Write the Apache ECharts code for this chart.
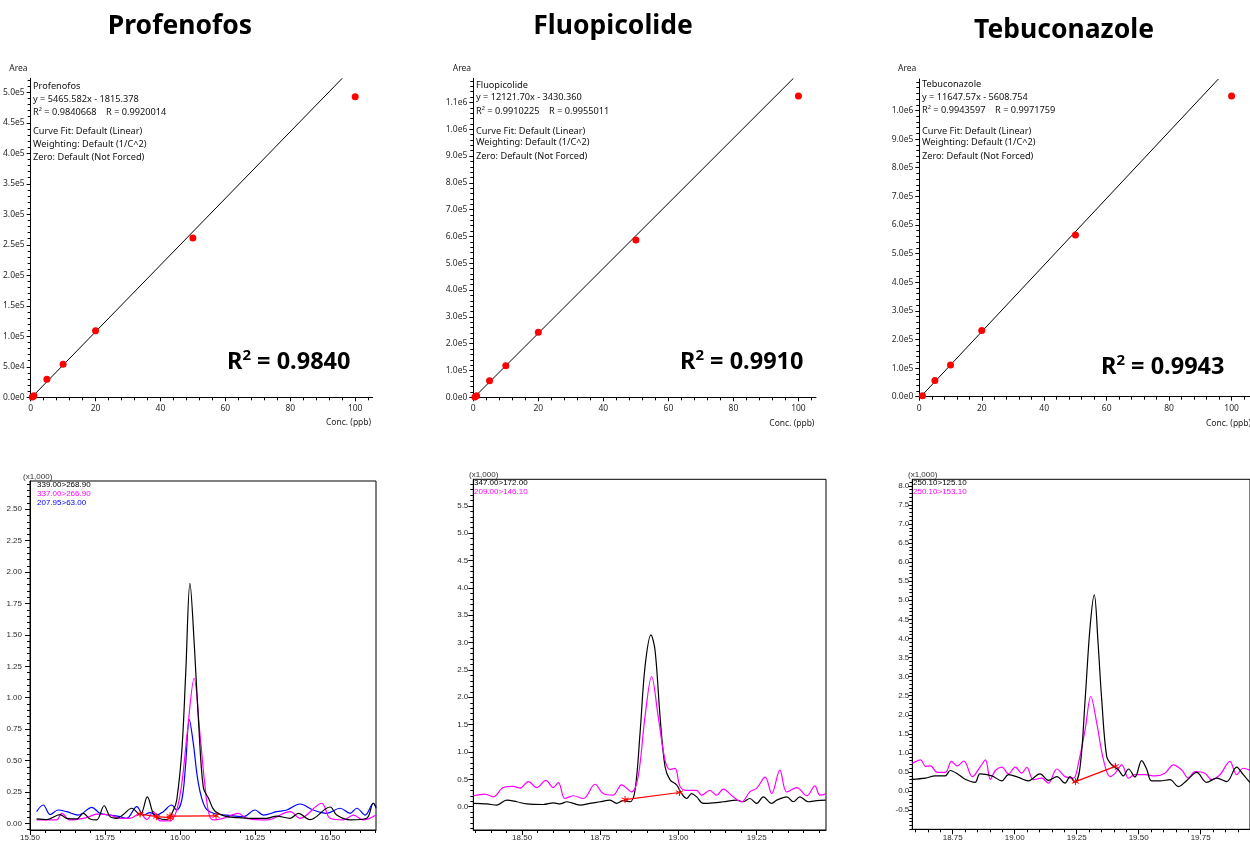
<!DOCTYPE html>
<html><head><meta charset="utf-8">
<script src="https://cdn.jsdelivr.net/npm/echarts@6/dist/echarts.min.js"></script>
<style>html,body{margin:0;padding:0;background:#fff}#c{width:1250px;height:843px}</style>
</head><body><div id="c"></div>
<script>
// ---------- Calibration data ----------
const titles = ['Profenofos', 'Fluopicolide', 'Tebuconazole'];
const profConc = [0.5, 1, 5, 10, 20, 50, 100];
const profArea = [500, 2500, 29500, 54000, 109000, 261000, 492800];
const fluoConc = [0.5, 1, 5, 10, 20, 50, 100];
const fluoArea = [1500, 6000, 62000, 118000, 243000, 587000, 1124000];
const tebuConc = [1, 5, 10, 20, 50, 100];
const tebuArea = [3500, 57000, 111000, 231000, 565000, 1051000];
// regression line end points
const profFit = [[0.33, 0], [96.0, 522900]];
const fluoFit = [[0.28, 0], [98.46, 1190000]];
const tebuFit = [[0.48, 0], [95.78, 1110000]];
const profInfo = ['Profenofos', 'y = 5465.582x - 1815.378', 'R² = 0.9840668    R = 0.9920014', 'Curve Fit: Default (Linear)', 'Weighting: Default (1/C^2)', 'Zero: Default (Not Forced)'];
const fluoInfo = ['Fluopicolide', 'y = 12121.70x - 3430.360', 'R² = 0.9910225    R = 0.9955011', 'Curve Fit: Default (Linear)', 'Weighting: Default (1/C^2)', 'Zero: Default (Not Forced)'];
const tebuInfo = ['Tebuconazole', 'y = 11647.57x - 5608.754', 'R² = 0.9943597    R = 0.9971759', 'Curve Fit: Default (Linear)', 'Weighting: Default (1/C^2)', 'Zero: Default (Not Forced)'];
const r2Big = ['0.9840', '0.9910', '0.9943'];

// calibration ticks
const calXTicks = [0, 20, 40, 60, 80, 100];
const profYTicks = [0, 50000, 100000, 150000, 200000, 250000, 300000, 350000, 400000, 450000, 500000];
const fluoYTicks = [0, 100000, 200000, 300000, 400000, 500000, 600000, 700000, 800000, 900000, 1000000, 1100000];
const tebuYTicks = [0, 100000, 200000, 300000, 400000, 500000, 600000, 700000, 800000, 900000, 1000000];

// ---------- Chromatogram data [time (min), intensity (x1,000)] ----------
const profLegend = ['339.00>268.90', '337.00>266.90', '207.95>63.00'];
const profBlack = [[15.522,0.035],[15.556,0.03],[15.60,0.07],[15.622,0.04],[15.656,0.035],[15.678,0.08],[15.70,0.035],[15.722,0.027],[15.747,0.14],[15.767,0.053],[15.789,0.04],[15.811,0.07],[15.839,0.12],[15.867,0.066],[15.891,0.21],[15.911,0.075],[15.928,0.04],[15.956,0.03],[15.978,0.106],[15.989,0.186],[16.006,0.58],[16.019,1.2],[16.033,1.91],[16.048,1.4],[16.063,0.75],[16.078,0.28],[16.095,0.2],[16.115,0.1],[16.156,0.053],[16.178,0.048],[16.233,0.04],[16.289,0.04],[16.322,0.058],[16.367,0.04],[16.394,0.08],[16.433,0.03],[16.50,0.13],[16.522,0.066],[16.567,0.027],[16.622,0.04],[16.644,0.16],[16.653,0.13]];
const profMagenta = [[15.522,0.027],[15.589,0.027],[15.606,0.08],[15.633,0.027],[15.689,0.045],[15.722,0.074],[15.767,0.066],[15.80,0.04],[15.833,0.04],[15.867,0.08],[15.889,0.03],[15.911,0.093],[15.933,0.02],[15.967,0.02],[15.989,0.106],[16.006,0.32],[16.024,0.72],[16.047,1.155],[16.066,0.72],[16.083,0.3],[16.096,0.08],[16.111,0.027],[16.144,0.04],[16.194,0.08],[16.222,0.04],[16.289,0.027],[16.367,0.093],[16.40,0.04],[16.472,0.16],[16.50,0.04],[16.544,0.027],[16.578,0.066],[16.611,0.027],[16.653,0.066]];
const profBlue = [[15.522,0.093],[15.544,0.146],[15.567,0.07],[15.594,0.106],[15.622,0.093],[15.661,0.066],[15.706,0.127],[15.733,0.08],[15.767,0.066],[15.80,0.053],[15.822,0.04],[15.856,0.133],[15.878,0.066],[15.90,0.085],[15.922,0.066],[15.944,0.093],[15.972,0.146],[15.989,0.106],[16.006,0.186],[16.018,0.45],[16.031,0.825],[16.044,0.64],[16.061,0.32],[16.083,0.13],[16.111,0.08],[16.156,0.066],[16.211,0.053],[16.25,0.106],[16.278,0.066],[16.322,0.093],[16.356,0.106],[16.40,0.154],[16.444,0.106],[16.489,0.08],[16.533,0.12],[16.567,0.08],[16.589,0.12],[16.617,0.066],[16.644,0.16],[16.653,0.12]];
const profBase1 = [[15.867,0.074],[15.922,0.053],[15.967,0.045]];
const profBase2 = [[15.967,0.058],[16.12,0.06]];

const fluoLegend = ['347.00>172.00', '209.00>146.10'];
const fluoBlack = [[18.344,0.06],[18.387,0.05],[18.419,0.03],[18.451,0.12],[18.483,0.09],[18.515,0.05],[18.568,0.04],[18.60,0.07],[18.621,0.05],[18.643,0.09],[18.685,0.03],[18.717,0.06],[18.749,0.09],[18.781,0.12],[18.802,0.06],[18.823,0.11],[18.845,0.09],[18.861,0.30],[18.877,1.34],[18.893,2.56],[18.912,3.14],[18.925,2.86],[18.941,1.65],[18.957,0.73],[18.973,0.49],[18.994,0.40],[19.01,0.24],[19.026,0.15],[19.042,0.24],[19.058,0.18],[19.079,0.06],[19.111,0.07],[19.143,0.09],[19.186,0.12],[19.207,0.09],[19.228,0.15],[19.25,0.06],[19.271,0.18],[19.298,0.06],[19.314,0.12],[19.346,0.18],[19.367,0.09],[19.388,0.18],[19.415,0.09],[19.442,0.11],[19.471,0.12]];
const fluoMagenta = [[18.344,0.20],[18.381,0.23],[18.408,0.18],[18.44,0.35],[18.472,0.37],[18.494,0.34],[18.52,0.46],[18.547,0.35],[18.576,0.48],[18.60,0.35],[18.616,0.44],[18.637,0.15],[18.664,0.20],[18.696,0.15],[18.733,0.41],[18.759,0.24],[18.791,0.21],[18.818,0.40],[18.85,0.27],[18.871,0.55],[18.893,1.65],[18.914,2.38],[18.935,1.65],[18.957,0.85],[18.973,0.68],[18.989,0.70],[19.005,0.37],[19.026,0.30],[19.058,0.30],[19.074,0.21],[19.10,0.30],[19.122,0.21],[19.143,0.32],[19.175,0.18],[19.202,0.09],[19.228,0.27],[19.25,0.34],[19.277,0.54],[19.298,0.24],[19.324,0.67],[19.346,0.27],[19.378,0.35],[19.41,0.20],[19.436,0.38],[19.452,0.21],[19.471,0.23]];
const fluoBase = [[18.829,0.13],[19.003,0.26]];

const tebuLegend = ['250.10>125.10', '250.10>153.10'];
const tebuBlack = [[18.587,0.31],[18.64,0.34],[18.68,0.40],[18.72,0.40],[18.74,0.54],[18.774,0.43],[18.80,0.31],[18.84,0.23],[18.86,0.45],[18.908,0.40],[18.948,0.27],[18.975,0.43],[19.015,0.36],[19.055,0.27],[19.102,0.45],[19.136,0.28],[19.17,0.38],[19.203,0.21],[19.223,0.38],[19.243,0.23],[19.264,0.65],[19.284,2.39],[19.304,4.3],[19.321,5.14],[19.336,3.9],[19.351,2.39],[19.371,0.91],[19.391,0.69],[19.418,0.56],[19.438,0.40],[19.459,0.58],[19.485,0.37],[19.512,0.80],[19.532,0.58],[19.552,0.27],[19.586,0.27],[19.626,0.30],[19.66,0.12],[19.694,0.28],[19.734,0.49],[19.774,0.23],[19.815,0.34],[19.855,0.25],[19.895,0.63],[19.922,0.43],[19.949,0.22]];
const tebuMagenta = [[18.587,0.73],[18.621,0.82],[18.64,0.65],[18.66,0.66],[18.688,0.49],[18.72,0.49],[18.745,0.78],[18.768,0.66],[18.795,0.79],[18.829,0.38],[18.862,0.65],[18.882,0.82],[18.902,0.31],[18.922,0.54],[18.948,0.63],[18.975,0.45],[19.002,0.63],[19.028,0.47],[19.049,0.62],[19.075,0.30],[19.109,0.34],[19.136,0.21],[19.17,0.58],[19.203,0.38],[19.237,0.34],[19.257,0.73],[19.284,1.61],[19.307,2.48],[19.331,1.78],[19.358,0.82],[19.385,0.38],[19.405,0.47],[19.432,0.69],[19.459,0.34],[19.485,0.43],[19.526,0.43],[19.566,0.40],[19.606,0.47],[19.64,0.69],[19.673,0.56],[19.70,0.34],[19.727,0.51],[19.767,0.47],[19.794,0.30],[19.828,0.43],[19.868,0.78],[19.895,0.43],[19.922,0.60],[19.949,0.55]];
const tebuBase = [[19.245,0.25],[19.406,0.65]];

const profXTicks = [15.5, 15.75, 16.0, 16.25, 16.5];
const profChYTicks = [0, 0.25, 0.5, 0.75, 1.0, 1.25, 1.5, 1.75, 2.0, 2.25, 2.5];
const fluoXTicks = [18.5, 18.75, 19.0, 19.25];
const fluoChYTicks = [0, 0.5, 1.0, 1.5, 2.0, 2.5, 3.0, 3.5, 4.0, 4.5, 5.0, 5.5];
const tebuXTicks = [18.75, 19.0, 19.25, 19.5, 19.75];
const tebuChYTicks = [-0.5, 0, 0.5, 1.0, 1.5, 2.0, 2.5, 3.0, 3.5, 4.0, 4.5, 5.0, 5.5, 6.0, 6.5, 7.0, 7.5, 8.0];

// ---------- helpers ----------
function steps(a, b, s) { const out = []; const n = Math.round((b - a) / s); for (let i = 0; i <= n; i++) out.push(Math.round((a + i * s) * 1e6) / 1e6); return out; }

const grids = [
  { left: 30, top: 78.3, width: 342.7, height: 319 },
  { left: 473.3, top: 78.3, width: 342.7, height: 319 },
  { left: 919.3, top: 79, width: 330.7, height: 317.7 },
  { left: 30, top: 481, width: 346, height: 349, show: true, borderColor: '#000', borderWidth: 1 },
  { left: 473.3, top: 479.3, width: 352.7, height: 350.7, show: true, borderColor: '#000', borderWidth: 1 },
  { left: 912.3, top: 479.3, width: 337.7, height: 350, show: true, borderColor: '#000', borderWidth: 1 }
];

const xAxes = [], yAxes = [];
function addAxes(list, pos, gi, min, max, majors, minors, fmt, font, margin, majLen) {
  const base = { type: 'value', gridIndex: gi, min: min, max: max, position: pos, splitLine: { show: false } };
  list.push(Object.assign({}, base, {
    axisLine: { show: true, onZero: false, lineStyle: { color: '#000', width: 1 } },
    axisTick: { show: true, customValues: majors, length: majLen, lineStyle: { color: '#000', width: 1 } },
    axisLabel: { show: true, customValues: majors, formatter: fmt, color: '#2a2a2a', fontFamily: font.family, fontSize: font.size, margin: margin },
    minorTick: { show: false }
  }));
  list.push(Object.assign({}, base, {
    axisLine: { show: false, onZero: false },
    axisTick: { show: true, customValues: minors, length: 3, lineStyle: { color: '#000', width: 1 } },
    axisLabel: { show: false },
    minorTick: { show: false }
  }));
}
const calFont = { family: 'Noto Sans', size: 8.5 };
const chFont = { family: 'Liberation Sans', size: 8 };
const expFmt = v => v.toExponential(1).replace('e+', 'e');
const intFmt = v => String(Math.round(v));
const f2 = v => v.toFixed(2), f1 = v => v.toFixed(1);

// calibration axes
addAxes(xAxes, 'bottom', 0, 0, 105.4, calXTicks, steps(0, 104, 4), intFmt, calFont, 7, 4);
addAxes(yAxes, 'left', 0, 0, 523000, profYTicks, steps(0, 520000, 10000), expFmt, calFont, 6, 4);
addAxes(xAxes, 'bottom', 1, 0, 105.4, calXTicks, steps(0, 104, 4), intFmt, calFont, 7, 4);
addAxes(yAxes, 'left', 1, 0, 1190000, fluoYTicks, steps(0, 1180000, 20000), expFmt, calFont, 6, 4);
addAxes(xAxes, 'bottom', 2, 0, 105.9, calXTicks, steps(0, 104, 4), intFmt, calFont, 7, 4);
addAxes(yAxes, 'left', 2, 0, 1110000, tebuYTicks, steps(0, 1100000, 20000), expFmt, calFont, 6, 4);
// chromatogram axes
addAxes(xAxes, 'bottom', 3, 15.5, 16.653, profXTicks, steps(15.5, 16.65, 0.05), f2, chFont, 4, 5);
addAxes(yAxes, 'left', 3, -0.053, 2.725, profChYTicks, steps(-0.05, 2.7, 0.05), f2, chFont, 8, 5);
addAxes(xAxes, 'bottom', 4, 18.344, 19.4715, fluoXTicks, steps(18.35, 19.45, 0.05), f2, chFont, 4, 5);
addAxes(yAxes, 'left', 4, -0.426, 5.985, fluoChYTicks, steps(-0.4, 5.9, 0.1), f1, chFont, 5, 5);
addAxes(xAxes, 'bottom', 5, 18.587, 19.949, tebuXTicks, steps(18.6, 19.95, 0.05), f2, chFont, 4, 5);
addAxes(yAxes, 'left', 5, -1.0, 8.17, tebuChYTicks, steps(-1.0, 8.1, 0.1), f1, chFont, 3, 4);

const series = [];
function pairs(xs, ys) { return xs.map((x, i) => [x, ys[i]]); }
const calSets = [[profConc, profArea, profFit], [fluoConc, fluoArea, fluoFit], [tebuConc, tebuArea, tebuFit]];
calSets.forEach((s, g) => {
  series.push({ type: 'line', xAxisIndex: 2 * g, yAxisIndex: 2 * g, data: s[2], showSymbol: false, clip: true, lineStyle: { color: '#000', width: 1 }, z: 2 });
  series.push({ type: 'scatter', xAxisIndex: 2 * g, yAxisIndex: 2 * g, data: pairs(s[0], s[1]), symbolSize: 7, itemStyle: { color: '#ff0000', opacity: 1 }, z: 3 });
});
function trace(g, data, color) {
  series.push({ type: 'line', xAxisIndex: 2 * g, yAxisIndex: 2 * g, data: data, showSymbol: false, smooth: 0.35, clip: true, lineStyle: { color: color, width: 1.2 }, z: 2 });
}
const starPath = 'path://M5,0L5,10M0.7,2.5L9.3,7.5M0.7,7.5L9.3,2.5';
function baseLine(g, data) {
  series.push({ type: 'line', xAxisIndex: 2 * g, yAxisIndex: 2 * g, data: data, symbol: starPath, symbolSize: 7, showSymbol: true, clip: true,
    lineStyle: { color: '#ff0000', width: 1.2 }, itemStyle: { color: '#ff0000', borderColor: '#ff0000', borderWidth: 1 }, z: 5 });
}
trace(3, profBlue, '#0000ff'); trace(3, profMagenta, '#ff00ff'); trace(3, profBlack, '#000000');
baseLine(3, profBase1); baseLine(3, profBase2);
trace(4, fluoBlack, '#000000'); trace(4, fluoMagenta, '#ff00ff'); baseLine(4, fluoBase);
trace(5, tebuMagenta, '#ff00ff'); trace(5, tebuBlack, '#000000'); baseLine(5, tebuBase);

// ---------- texts ----------
const graphic = [];
function txt(x, y, text, opt) {
  graphic.push({ type: 'text', x: x, y: y, silent: true, z: 10, style: Object.assign({ text: text, fill: '#000', textVerticalAlign: 'middle', textAlign: 'left', fontFamily: 'Noto Sans', fontSize: 9 }, opt || {}) });
}
const titleX = [180, 613, 1064], titleY = [26, 26, 30];
titles.forEach((t, i) => txt(titleX[i], titleY[i], t, { fontSize: 26.5, fontWeight: 'bold', textAlign: 'center' }));
const areaX = [9.3, 452.7, 898];
areaX.forEach(x => txt(x, 69, 'Area', { fontSize: 8.5, fill: '#222' }));
const concX = [326, 769.3, 1206], concY = [423, 424, 423.3];
concX.forEach((x, i) => txt(x, concY[i], 'Conc. (ppb)', { fontSize: 8.5, fill: '#222' }));
const infoX = [33, 476, 922];
const infoY = [[86, 99, 112, 131, 144, 157], [85.7, 97.7, 111, 131, 142.7, 156], [84.7, 97.3, 110.7, 131, 142.7, 156]];
[profInfo, fluoInfo, tebuInfo].forEach((lines, i) => lines.forEach((l, j) => txt(infoX[i], infoY[i][j], l, { fontSize: 9.2, fill: '#111' })));
const r2X = [227, 680, 1101], r2Y = [362, 362, 367];
r2Big.forEach((v, i) => {
  graphic.push({ type: 'text', x: r2X[i], y: r2Y[i], silent: true, z: 10, style: {
    text: '{r|R}{s|2}{r| = ' + v + '}', textVerticalAlign: 'middle', textAlign: 'left',
    rich: { r: { fontSize: 23.5, fontWeight: 'bold', fontFamily: 'Noto Sans', fill: '#000', lineHeight: 27 },
            s: { fontSize: 15, fontWeight: 'bold', fontFamily: 'Noto Sans', fill: '#000', verticalAlign: 'top', lineHeight: 19 } } } });
});
const x1000 = [[23, 477], [469, 475], [908, 475]];
x1000.forEach(p => txt(p[0], p[1], '(x1,000)', { fontFamily: 'Liberation Sans', fontSize: 8, fill: '#333' }));
const legColors = ['#000000', '#ff00ff', '#0000ff'];
const legPos = [[37, [485, 493.5, 503]], [474, [482.7, 491.7]], [913, [483, 492]]];
[profLegend, fluoLegend, tebuLegend].forEach((leg, i) => leg.forEach((l, j) => txt(legPos[i][0], legPos[i][1][j], l, { fontFamily: 'Liberation Sans', fontSize: 8, fill: legColors[j] })));

const chart = echarts.init(document.getElementById('c'), null, { renderer: 'canvas' });
chart.setOption({ animation: false, backgroundColor: '#fff', grid: grids, xAxis: xAxes, yAxis: yAxes, series: series, graphic: graphic });
</script></body></html>
